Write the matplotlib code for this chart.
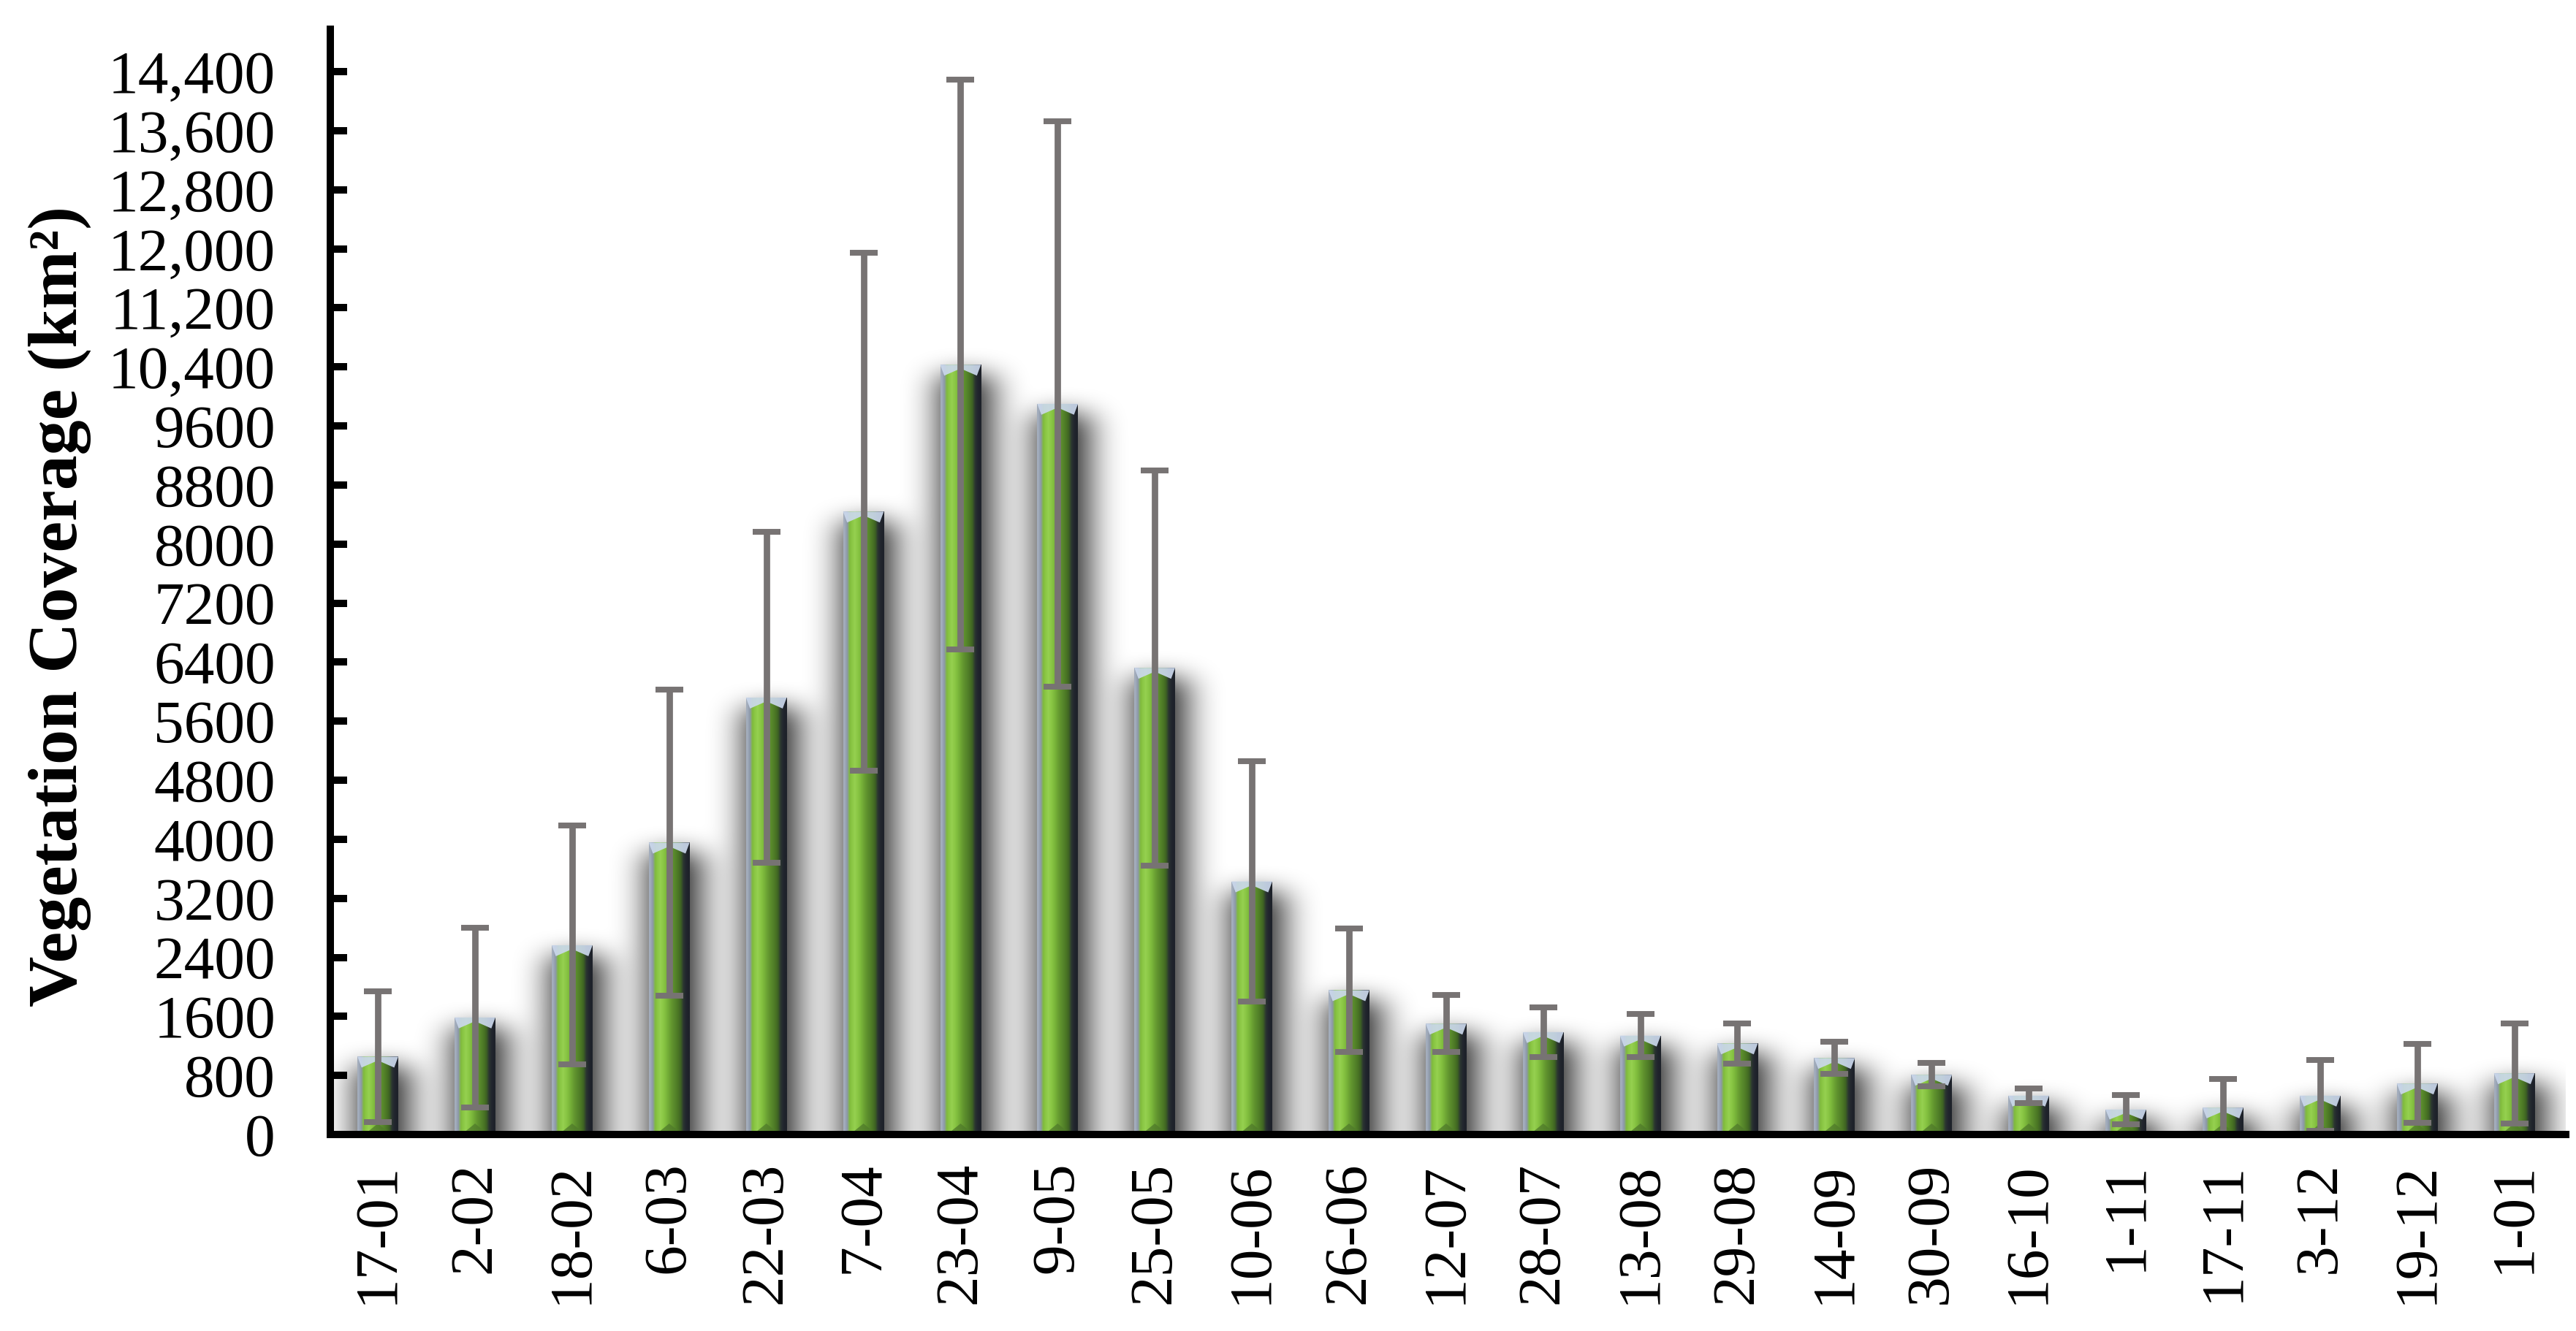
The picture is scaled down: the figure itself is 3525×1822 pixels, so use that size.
import numpy as np
import matplotlib
matplotlib.use("Agg")
import matplotlib.pyplot as plt
from matplotlib.colors import to_rgb
from matplotlib.patches import Polygon

plt.rcParams['font.family'] = ['Liberation Serif', 'DejaVu Serif']

# ---------------- data ----------------
dates = ["17-01", "2-02", "18-02", "6-03", "22-03", "7-04", "23-04", "9-05",
         "25-05", "10-06", "26-06", "12-07", "28-07", "13-08", "29-08", "14-09",
         "30-09", "16-10", "1-11", "17-11", "3-12", "19-12", "1-01"]
coverage = [1055, 1586, 2564, 3955, 5920, 8440, 10430, 9900,
            6323, 3429, 1955, 1502, 1388, 1340, 1234, 1037,
            810, 527, 339, 365, 527, 691, 830]
std_dev = [886, 1219, 1618, 2070, 2243, 3510, 3860, 3830,
           2676, 1632, 841, 384, 339, 290, 273, 217,
           158, 100, 200, 390, 482, 534, 677]
yticks = [0, 800, 1600, 2400, 3200, 4000, 4800, 5600, 6400, 7200, 8000, 8800,
          9600, 10400, 11200, 12000, 12800, 13600, 14400]
ytick_labels = ["0", "800", "1600", "2400", "3200", "4000", "4800", "5600",
                "6400", "7200", "8000", "8800", "9600", "10,400", "11,200",
                "12,000", "12,800", "13,600", "14,400"]
ylabel = "Vegetation Coverage (km²)"

# ---------------- figure ----------------
W, H, DPI = 3525, 1822, 300
fig = plt.figure(figsize=(W / DPI, H / DPI), dpi=DPI)
ax_l, ax_r, ax_b, ax_t = 452 / W, 3511 / W, 1 - 1553 / H, 1 - 40 / H
ax = fig.add_axes([ax_l, ax_b, ax_r - ax_l, ax_t - ax_b])

YMAX = 14975
XMIN, XMAX = -0.49, len(dates) - 0.47
ax.set_ylim(0, YMAX)
ax.set_xlim(XMIN, XMAX)

x = np.arange(len(dates))
vals = np.array(coverage, dtype=float)
bw = 0.42

px_per_unit_y = (ax_t - ax_b) * H / YMAX

# ---- soft drop shadow: blurred raster of the bar footprints ----
def box_blur(a, r, axis):
    a = np.moveaxis(a, axis, -1)
    p = np.pad(a, [(0, 0), (r + 1, r)], mode='edge')
    c = np.cumsum(p, axis=-1)
    out = (c[:, 2 * r + 1:] - c[:, :-(2 * r + 1)]) / (2 * r + 1)
    return np.moveaxis(out, -1, axis)

bbox = ax.get_window_extent()
x0p, y0p = bbox.x0, bbox.y0
wp, hp = int(round(bbox.width)), int(round(bbox.height))
P = 140
mask = np.zeros((hp + 2 * P, wp + 2 * P))
sh_dx, sh_dy = 7, 14   # shadow offset in px (right, down)
for xi, v in zip(x, vals):
    (lx, ty), = ax.transData.transform([(xi - bw / 2, v)])
    (rx, _), = ax.transData.transform([(xi + bw / 2, v)])
    c0 = int(round(lx - x0p)) + P + sh_dx - 6
    c1 = int(round(rx - x0p)) + P + sh_dx + 6
    r0 = int(round((y0p + hp) - ty)) + P + sh_dy
    mask[r0:, c0:c1] = 1.0
blur = mask
for _ in range(3):
    blur = box_blur(blur, 23, 1)
    blur = box_blur(blur, 15, 0)
blur = blur[P:P + hp, P:P + wp]
shadow = np.zeros((hp, wp, 4))
shadow[..., 3] = np.clip(blur * 0.92, 0, 1)
ax.imshow(shadow, extent=[XMIN, XMAX, 0, YMAX], origin='upper', aspect='auto',
          interpolation='bilinear', zorder=1)

# ---- gradient bars ----
grad_cols = ["#a3adbc", "#8d98aa", "#80bb3d", "#8cc846", "#95d050", "#8cc846",
             "#80bd3e", "#73ad37", "#679c31", "#5c8e2d", "#538229", "#4a7525",
             "#3e6223", "#2b3631", "#22262e", "#1e222a"]
grad = np.array([[to_rgb(c) for c in grad_cols]])
bars = ax.bar(x, vals, width=bw, color='none', linewidth=0, zorder=2)
for b, xi, v in zip(bars, x, vals):
    im = ax.imshow(grad, extent=[xi - bw / 2, xi + bw / 2, 0, v], aspect='auto',
                   interpolation='bilinear', zorder=2)
    im.set_clip_path(b)
    xl, xr = xi - bw / 2, xi + bw / 2
    dd = min(15 / px_per_unit_y, v * 0.4)
    top = Polygon([(xl, v), (xr, v), (xr - bw * 0.10, v - dd),
                   (xi, v - dd * 0.35), (xl + bw * 0.10, v - dd)], closed=True,
                  facecolor="#cbd8ec", edgecolor='none', alpha=0.92, zorder=3)
    ax.add_patch(top)
    db = min(15 / px_per_unit_y, v * 0.4)
    bot = Polygon([(xl + bw * 0.17, 0), (xr - bw * 0.17, 0), (xi, db)], closed=True,
                  facecolor="#4f7a2a", edgecolor='none', alpha=0.75, zorder=3)
    ax.add_patch(bot)

ax.set_xlim(XMIN, XMAX)
ax.set_ylim(0, YMAX)

# ---- error bars ----
ax.errorbar(x, vals, yerr=std_dev, fmt='none', ecolor='#777373',
            elinewidth=2.1, capsize=4.6, capthick=1.9, zorder=4)

# ---- axes styling ----
for s in ['top', 'right']:
    ax.spines[s].set_visible(False)
for s in ['left', 'bottom']:
    ax.spines[s].set_linewidth(2.4)
    ax.spines[s].set_color('black')
    ax.spines[s].set_zorder(5)

ax.set_yticks(yticks)
ax.set_yticklabels(ytick_labels)
ax.tick_params(axis='y', direction='in', length=5.5, width=2.4, pad=18,
               labelsize=20)
ax.set_xticks(x)
ax.set_xticklabels(dates, rotation=90)
ax.tick_params(axis='x', length=0, pad=9, labelsize=20)

ax.set_ylabel(ylabel, fontsize=23, fontweight='bold', va='center')
ax.yaxis.set_label_coords(-0.121, 0.478)

fig.savefig("out.png", dpi=DPI, facecolor='white')
